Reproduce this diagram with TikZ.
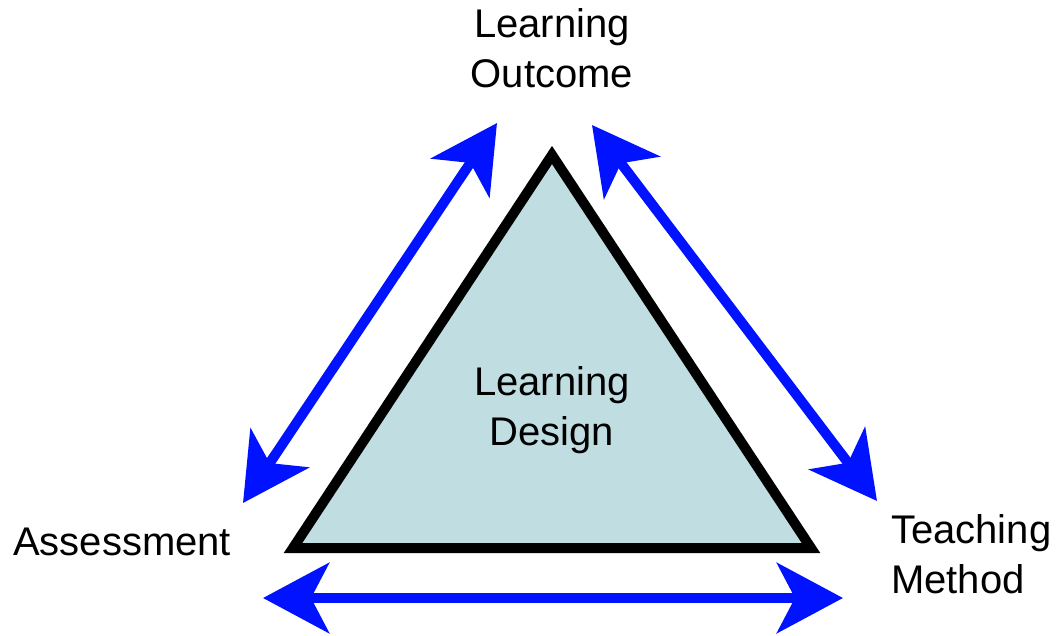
\documentclass[tikz,border=0pt]{standalone}
\usepackage{fontspec}
\setmainfont{Liberation Sans}
\usetikzlibrary{positioning,arrows.meta}
\definecolor{arrowblue}{RGB}{0,18,255}
\definecolor{designfill}{RGB}{192,222,226}

\begin{document}
\begin{tikzpicture}[x=1pt,y=-1pt,
  textlbl/.style={font=\fontsize{40}{50}\selectfont, align=center, inner sep=0pt},
  twoway/.style={arrowblue, line width=10pt, {Stealth[length=66pt,width=70pt,inset=18pt]}-{Stealth[length=66pt,width=70pt,inset=18pt]}}]
\useasboundingbox (0,0) rectangle (1058,635);
\coordinate (apex) at (552,155);
\coordinate (baseL) at (293,548);
\coordinate (baseR) at (811,548);
\filldraw[fill=designfill, draw=black, line width=10pt, miter limit=10] (apex) -- (baseL) -- (baseR) -- cycle;
\node[textlbl, anchor=base] (design) at (552,445) {Learning\\Design};
\node[textlbl, anchor=base] (outcome) at (552,87) {Learning\\Outcome};
\node[textlbl, anchor=base west] (assess) at (13,555) {Assessment};
\node[textlbl, anchor=base west, align=left] (method) at (891,593) {Teaching\\Method};

\coordinate (outcomeL) at (497,123);
\coordinate (outcomeR) at (592,125);
\coordinate (assessU) at (243,503);
\coordinate (assessB) at (263,598);
\coordinate (methodU) at (877,501);
\coordinate (methodB) at (843,598);

\draw[twoway] (assessU) -- (outcomeL);
\draw[twoway] (outcomeR) -- (methodU);
\draw[twoway] (assessB) -- (methodB);
\end{tikzpicture}
\end{document}
